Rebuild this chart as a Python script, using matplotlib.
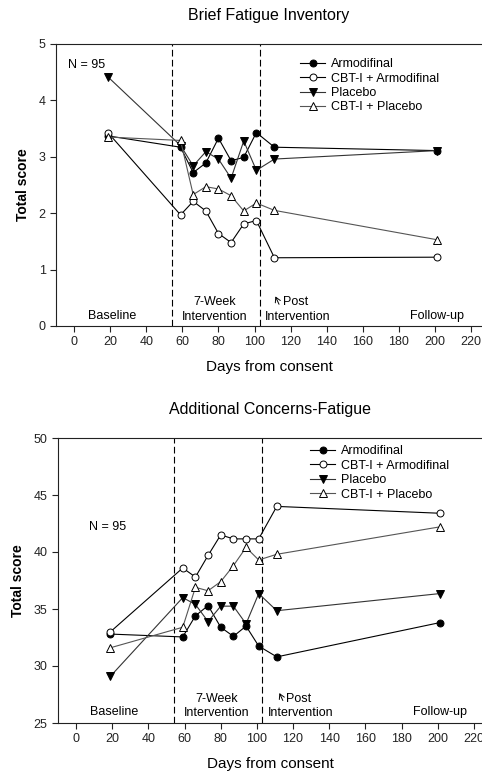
import matplotlib
matplotlib.use("Agg")
import matplotlib.pyplot as plt

plt.rcParams['font.family'] = ['Liberation Sans', 'DejaVu Sans']

days = [19, 59, 66, 73, 80, 87, 94, 101, 111, 201]
series_names = ["Armodifinal", "CBT-I + Armodifinal", "Placebo", "CBT-I + Placebo"]

# Brief Fatigue Inventory
bfi_armo = [3.37, 3.17, 2.72, 2.89, 3.33, 2.93, 2.99, 3.43, 3.17, 3.11]
bfi_cbt_armo = [3.42, 1.97, 2.21, 2.04, 1.64, 1.48, 1.81, 1.87, 1.21, 1.22]
bfi_placebo = [4.41, 3.20, 2.84, 3.09, 2.96, 2.62, 3.28, 2.76, 2.96, 3.11]
bfi_cbt_placebo = [3.35, 3.29, 2.33, 2.47, 2.43, 2.31, 2.04, 2.18, 2.05, 1.53]

# Additional Concerns-Fatigue
acf_armo = [32.8, 32.55, 34.4, 35.3, 33.4, 32.6, 33.5, 31.75, 30.8, 33.8]
acf_cbt_armo = [33.0, 38.6, 37.8, 39.7, 41.5, 41.15, 41.15, 41.15, 44.0, 43.4]
acf_placebo = [29.1, 36.0, 35.4, 33.9, 35.25, 35.25, 33.7, 36.35, 34.85, 36.35]
acf_cbt_placebo = [31.6, 33.4, 36.9, 36.6, 37.4, 38.8, 40.4, 39.3, 39.8, 42.2]

phase_bounds = [54, 103]
xticks = list(range(0, 221, 20))

fig = plt.figure(figsize=(4.82, 7.77), dpi=100)

styles = [
    dict(color='black', marker='o', mfc='black', mec='black', ms=5),
    dict(color='black', marker='o', mfc='white', mec='black', ms=5),
    dict(color='#333333', marker='v', mfc='black', mec='black', ms=6),
    dict(color='#555555', marker='^', mfc='white', mec='black', ms=6),
]

def make_panel(rect, title, ys, ylim, yticks, xlim, n_pos, labels_y, arrow, legend_anchor):
    ax = fig.add_axes(rect)
    for y, name, st in zip(ys, series_names, styles):
        ax.plot(days, y, lw=0.8, mew=0.7, label=name, zorder=3, **st)
    for b in phase_bounds:
        ax.axvline(b, color='black', lw=0.8, ls=(0, (6, 3)), zorder=1)
    ax.set_xlim(*xlim)
    ax.set_ylim(*ylim)
    ax.set_yticks(yticks)
    ax.set_xticks(xticks)
    ax.spines['right'].set_visible(False)
    for s in ['left', 'bottom', 'top']:
        ax.spines[s].set_linewidth(0.8)
        ax.spines[s].set_color('#222222')
    ax.tick_params(direction='out', length=4, width=0.8, labelsize=9, colors='#222222')
    ax.set_title(title, fontsize=11.5, pad=17)
    ax.set_xlabel("Days from consent", fontsize=11, labelpad=8)
    ax.set_ylabel("Total score", fontsize=10, fontweight='bold', labelpad=6)
    ax.text(n_pos[0], n_pos[1], "N = 95", fontsize=9, ha='center', va='center')
    y_low, y_high = labels_y
    ax.text(21, y_low, "Baseline", fontsize=9, ha='center', va='center')
    ax.text(78, y_high, "7-Week", fontsize=9, ha='center', va='center')
    ax.text(78, y_low - (y_high - y_low) * 0.05, "Intervention", fontsize=9, ha='center', va='center')
    ax.text(116, y_high, "Post", fontsize=9, ha='left', va='center')
    ax.text(124, y_low - (y_high - y_low) * 0.05, "Intervention", fontsize=9, ha='center', va='center')
    ax.text(201, y_low, "Follow-up", fontsize=9, ha='center', va='center')
    (tx, ty), (sx, sy) = arrow
    ax.annotate("", xy=(tx, ty), xytext=(sx, sy),
                arrowprops=dict(arrowstyle='->,head_length=0.35,head_width=0.2', lw=0.7, color='black'))
    ax.legend(loc='upper left', bbox_to_anchor=legend_anchor, frameon=False, fontsize=9,
              handlelength=2.0, handletextpad=0.5, labelspacing=0.2, borderpad=0, borderaxespad=0)
    return ax

make_panel([56/482, 1 - 326/777, 1 - 56/482, (326 - 44)/777],
           "Brief Fatigue Inventory",
           [bfi_armo, bfi_cbt_armo, bfi_placebo, bfi_cbt_placebo],
           (0, 5), [0, 1, 2, 3, 4, 5], (-10, 226),
           (6.8, 4.63), (0.18, 0.43),
           ((110.9, 0.57), (114.2, 0.34)),
           ((300 - 56) / (482 - 56), 1 - (58 - 44) / (326 - 44)))

make_panel([58/482, 1 - 723/777, 1 - 58/482, (723 - 438)/777],
           "Additional Concerns-Fatigue",
           [acf_armo, acf_cbt_armo, acf_placebo, acf_cbt_placebo],
           (25, 50), [25, 30, 35, 40, 45, 50], (-10, 224.5),
           (17.5, 42.16), (25.95, 27.1),
           ((111.8, 27.85), (115, 26.75)),
           ((310 - 58) / (482 - 58), 1 - (445 - 438) / (723 - 438)))

fig.savefig("out.png", dpi=100)
